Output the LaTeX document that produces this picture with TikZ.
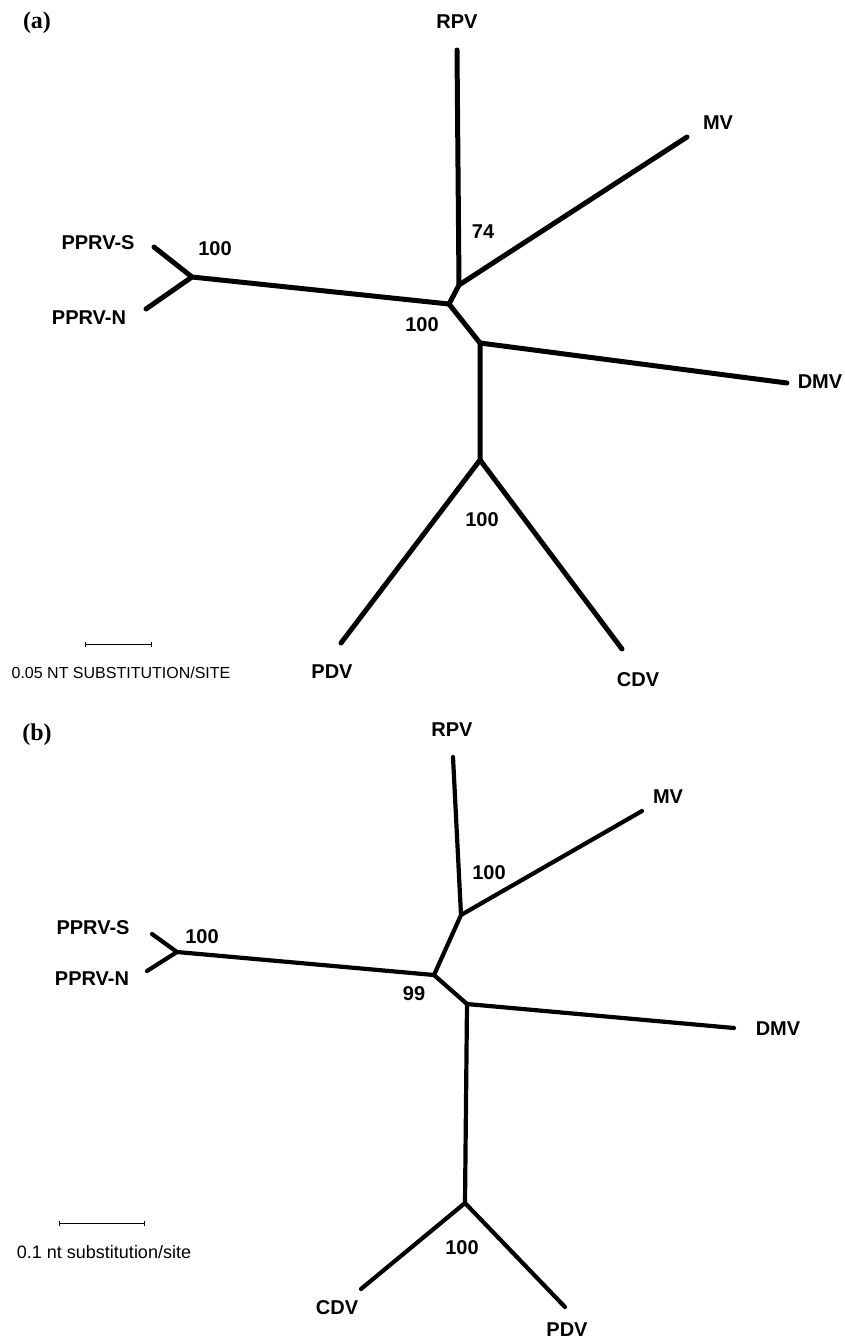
\documentclass[tikz,border=0pt]{standalone}
\usepackage{fontspec}
\setmainfont{Liberation Serif}
\setsansfont{Liberation Sans}
\usetikzlibrary{arrows.meta}

\tikzset{
  branch/.style={line width=5pt, line cap=round, line join=round},
  thinbranch/.style={line width=4.2pt, line cap=round, line join=round},
  taxon/.style={font=\sffamily\bfseries\fontsize{20}{20}\selectfont, inner sep=0pt},
  boot/.style={font=\sffamily\bfseries\fontsize{20}{20}\selectfont, inner sep=0pt},
  panel/.style={font=\rmfamily\bfseries\fontsize{24}{24}\selectfont, inner sep=0pt},
  scaletext/.style={font=\sffamily\fontsize{16}{16}\selectfont, inner sep=0pt},
  scalebar/.style={line width=0.8pt, {Bar[width=5pt]}-{Bar[width=5pt]}}
}

\begin{document}
\begin{tikzpicture}[x=1pt, y=-1pt]
\useasboundingbox (0,0) rectangle (845,1339);

% panel (a)
\node[panel] (pa) at (37,23) {(a)};
\coordinate (aRPV) at (457,50);
\coordinate (aMRj) at (459,285);
\coordinate (aMV) at (687,137);
\coordinate (aCj) at (449,304);
\coordinate (aPj) at (192,277);
\coordinate (aPS) at (154,247);
\coordinate (aPN) at (146,309);
\coordinate (aDj) at (480,343);
\coordinate (aDMV) at (787,383);
\coordinate (aCPj) at (480,460);
\coordinate (aPDV) at (341,643);
\coordinate (aCDV) at (622,649);
\draw[branch] (aRPV) -- (aMRj) -- (aCj) -- (aDj) -- (aCPj) -- (aPDV);
\draw[branch] (aMRj) -- (aMV);
\draw[branch] (aCj) -- (aPj) -- (aPS);
\draw[branch] (aPj) -- (aPN);
\draw[branch] (aDj) -- (aDMV);
\draw[branch] (aCPj) -- (aCDV);
\node[taxon] (aRPVl) at (457,22) {RPV};
\node[taxon] (aMVl) at (718,123) {MV};
\node[taxon] (aDMVl) at (820,382) {DMV};
\node[taxon] (aPSl) at (98,243) {PPRV-S};
\node[taxon] (aPNl) at (89,318) {PPRV-N};
\node[taxon] (aPDVl) at (332,672) {PDV};
\node[taxon] (aCDVl) at (638,680) {CDV};
\node[boot] (aB1) at (483,232) {74};
\node[boot] (aB2) at (215,249) {100};
\node[boot] (aB3) at (422,325) {100};
\node[boot] (aB4) at (482,520) {100};
\coordinate (aSL) at (85,644);
\coordinate (aSR) at (152,644);
\draw[scalebar] (aSL) -- (aSR);
\node[scaletext] (aSt) at (121,673) {0.05 NT SUBSTITUTION/SITE};

% panel (b)
\node[panel] (pb) at (37,735) {(b)};
\coordinate (bRPV) at (453,757);
\coordinate (bMRj) at (461,915);
\coordinate (bMV) at (642,811);
\coordinate (bCj) at (434,975);
\coordinate (bPj) at (177,952);
\coordinate (bPS) at (152,934);
\coordinate (bPN) at (147,971);
\coordinate (bDj) at (467,1004);
\coordinate (bDMV) at (734,1028);
\coordinate (bCPj) at (465,1203);
\coordinate (bCDV) at (361,1289);
\coordinate (bPDV) at (565,1307);
\draw[thinbranch] (bRPV) -- (bMRj) -- (bCj) -- (bDj) -- (bCPj) -- (bCDV);
\draw[thinbranch] (bMRj) -- (bMV);
\draw[thinbranch] (bCj) -- (bPj) -- (bPS);
\draw[thinbranch] (bPj) -- (bPN);
\draw[thinbranch] (bDj) -- (bDMV);
\draw[thinbranch] (bCPj) -- (bPDV);
\node[taxon] (bRPVl) at (452,730) {RPV};
\node[taxon] (bMVl) at (668,797) {MV};
\node[taxon] (bDMVl) at (778,1029) {DMV};
\node[taxon] (bPSl) at (93,928) {PPRV-S};
\node[taxon] (bPNl) at (92,979) {PPRV-N};
\node[taxon] (bCDVl) at (337,1308) {CDV};
\node[taxon] (bPDVl) at (567,1330) {PDV};
\node[boot] (bB1) at (489,873) {100};
\node[boot] (bB2) at (202,937) {100};
\node[boot] (bB3) at (414,994) {99};
\node[boot] (bB4) at (462,1248) {100};
\coordinate (bSL) at (59,1223);
\coordinate (bSR) at (145,1223);
\draw[scalebar] (bSL) -- (bSR);
\node[scaletext, font=\sffamily\fontsize{18}{18}\selectfont] (bSt) at (104,1252) {0.1 nt substitution/site};
\end{tikzpicture}
\end{document}
